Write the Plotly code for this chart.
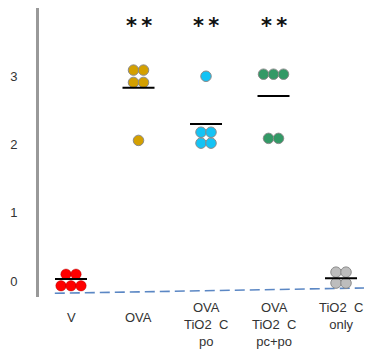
import plotly.graph_objects as go

categories = ["V", "OVA", "OVA<br>TiO2  C<br>po", "OVA<br>TiO2  C<br>pc+po", "TiO2  C<br>only"]
group_values = [
    [0.10, 0.10, -0.07, -0.07, -0.07],
    [3.09, 3.09, 2.91, 2.91, 2.06],
    [3.00, 2.18, 2.18, 2.02, 2.02],
    [3.03, 3.03, 3.03, 2.09, 2.09],
    [0.13, 0.13, -0.03, -0.03],
]
group_means = [0.03, 2.83, 2.30, 2.71, 0.04]
group_colors = ["#FF0000", "#D4A000", "#14C3F5", "#339966", "#BDBDBD"]
significance = ["", "*\u2009*", "*\u2009*", "*\u2009*", ""]
star_level = 3.74
baseline_x = [-0.24, 4.46]
baseline_y = [-0.18, -0.10]
y_ticks = [0, 1, 2, 3]

px_per_unit = 67.5
dot_step = 10.0 / px_per_unit
mean_half = 16.0 / px_per_unit

fig = go.Figure()

fig.add_trace(go.Scatter(
    x=baseline_x, y=baseline_y, mode="lines",
    line=dict(color="#5B87C4", width=1.6, dash="10px,5px"),
    hoverinfo="skip", showlegend=False))

for i, vals in enumerate(group_values):
    rows = {}
    for v in vals:
        rows.setdefault(v, 0)
        rows[v] += 1
    xs, ys = [], []
    for v, n in rows.items():
        for k in range(n):
            xs.append(i + (k - (n - 1) / 2) * dot_step)
            ys.append(v)
    edge = "rgba(150,0,0,0.35)" if i == 0 else "#8A8A8A"
    fig.add_trace(go.Scatter(
        x=xs, y=ys, mode="markers",
        marker=dict(size=10.5, color=group_colors[i], line=dict(color=edge, width=1)),
        showlegend=False))

mx, my = [], []
for i, m in enumerate(group_means):
    mx += [i - mean_half, i + mean_half, None]
    my += [m, m, None]
fig.add_trace(go.Scatter(x=mx, y=my, mode="lines",
                         line=dict(color="black", width=2), showlegend=False))

for i, s in enumerate(significance):
    if s:
        fig.add_annotation(x=i, y=star_level, text="<b>" + s + "</b>", showarrow=False,
                           font=dict(family="DejaVu Sans", size=21, color="#111"),
                           xanchor="center", yanchor="middle")

for i, c in enumerate(categories):
    nlines = c.count("<br>") + 1
    fig.add_annotation(x=i, y=0, yref="paper", text=c, showarrow=False,
                       xanchor="center", yanchor="top", align="center",
                       yshift=-1 - (10 if nlines == 1 else 0),
                       font=dict(family="Liberation Sans, Arial", size=13, color="#333"))

fig.update_layout(
    width=364, height=345,
    margin=dict(l=31, r=0, t=0, b=56),
    paper_bgcolor="white", plot_bgcolor="white",
    font=dict(family="Liberation Sans, Arial", size=13, color="#333"),
    xaxis=dict(range=[-0.474, 4.459], showgrid=False, zeroline=False,
               showticklabels=False, showline=False, ticks=""),
    yaxis=dict(range=[-0.234, 4.0], tickvals=y_ticks, showgrid=False, zeroline=False,
               showline=True, linecolor="#999999", linewidth=3,
               ticks="outside", ticklen=16, tickcolor="rgba(0,0,0,0)",
               tickfont=dict(size=13, color="#333")),
)

fig.write_html("out.html")
